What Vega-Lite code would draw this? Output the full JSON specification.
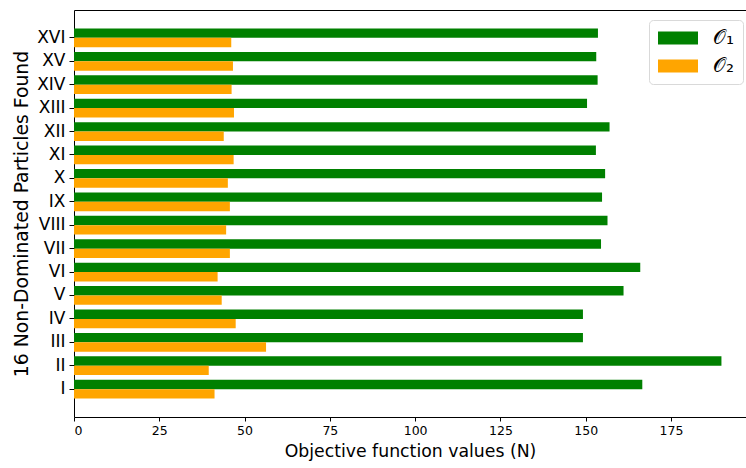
{
  "$schema": "https://vega.github.io/schema/vega-lite/v6.json",
  "width": 672,
  "height": 407,
  "autosize": {"type": "none"},
  "padding": {"left": 74, "top": 10, "right": 0, "bottom": 51},
  "config": {
    "font": "DejaVu Sans",
    "view": {"stroke": "#000000", "strokeWidth": 1},
    "axis": {
      "grid": false,
      "domain": false,
      "tickColor": "#000000",
      "labelColor": "#000000",
      "titleColor": "#000000",
      "titleFontWeight": "normal",
      "labelFont": "DejaVu Sans",
      "titleFont": "DejaVu Sans"
    }
  },
  "data": {
    "values": [
      {"particle": "I", "objective": "𝒪₁", "value": 166.6},
      {"particle": "I", "objective": "𝒪₂", "value": 41.2},
      {"particle": "II", "objective": "𝒪₁", "value": 189.8},
      {"particle": "II", "objective": "𝒪₂", "value": 39.5},
      {"particle": "III", "objective": "𝒪₁", "value": 149.2},
      {"particle": "III", "objective": "𝒪₂", "value": 56.3},
      {"particle": "IV", "objective": "𝒪₁", "value": 149.2},
      {"particle": "IV", "objective": "𝒪₂", "value": 47.4},
      {"particle": "V", "objective": "𝒪₁", "value": 161.1},
      {"particle": "V", "objective": "𝒪₂", "value": 43.3},
      {"particle": "VI", "objective": "𝒪₁", "value": 166.0},
      {"particle": "VI", "objective": "𝒪₂", "value": 42.1},
      {"particle": "VII", "objective": "𝒪₁", "value": 154.5},
      {"particle": "VII", "objective": "𝒪₂", "value": 45.7},
      {"particle": "VIII", "objective": "𝒪₁", "value": 156.4},
      {"particle": "VIII", "objective": "𝒪₂", "value": 44.6},
      {"particle": "IX", "objective": "𝒪₁", "value": 154.8},
      {"particle": "IX", "objective": "𝒪₂", "value": 45.7},
      {"particle": "X", "objective": "𝒪₁", "value": 155.7},
      {"particle": "X", "objective": "𝒪₂", "value": 45.1},
      {"particle": "XI", "objective": "𝒪₁", "value": 153.0},
      {"particle": "XI", "objective": "𝒪₂", "value": 46.8},
      {"particle": "XII", "objective": "𝒪₁", "value": 157.0},
      {"particle": "XII", "objective": "𝒪₂", "value": 43.9},
      {"particle": "XIII", "objective": "𝒪₁", "value": 150.4},
      {"particle": "XIII", "objective": "𝒪₂", "value": 46.9},
      {"particle": "XIV", "objective": "𝒪₁", "value": 153.5},
      {"particle": "XIV", "objective": "𝒪₂", "value": 46.2},
      {"particle": "XV", "objective": "𝒪₁", "value": 153.1},
      {"particle": "XV", "objective": "𝒪₂", "value": 46.6},
      {"particle": "XVI", "objective": "𝒪₁", "value": 153.6},
      {"particle": "XVI", "objective": "𝒪₂", "value": 46.1}
    ]
  },
  "mark": {"type": "bar"},
  "encoding": {
    "y": {
      "field": "particle",
      "type": "nominal",
      "sort": ["XVI", "XV", "XIV", "XIII", "XII", "XI", "X", "IX", "VIII", "VII", "VI", "V", "IV", "III", "II", "I"],
      "scale": {"paddingInner": 0.2, "paddingOuter": 0.79},
      "axis": {
        "title": "16 Non-Dominated Particles Found",
        "titleFontSize": 18.8,
        "titlePadding": 5,
        "labelFontSize": 17,
        "labelPadding": 4,
        "tickSize": 5
      }
    },
    "yOffset": {
      "field": "objective",
      "type": "nominal",
      "sort": ["𝒪₁", "𝒪₂"],
      "scale": {"paddingInner": 0, "paddingOuter": 0}
    },
    "x": {
      "field": "value",
      "type": "quantitative",
      "scale": {"domain": [0, 197], "nice": false, "zero": true},
      "axis": {
        "title": "Objective function values (N)",
        "titleFontSize": 17.3,
        "titlePadding": 6,
        "labelFontSize": 12.5,
        "labelPadding": 3,
        "tickSize": 4,
        "values": [0, 25, 50, 75, 100, 125, 150, 175]
      }
    },
    "color": {
      "field": "objective",
      "type": "nominal",
      "scale": {"domain": ["𝒪₁", "𝒪₂"], "range": ["#008000", "#ffa500"]},
      "legend": {
        "title": null,
        "orient": "none",
        "legendX": 575,
        "legendY": 10,
        "padding": 8,
        "cornerRadius": 4,
        "strokeColor": "#d9d9d9",
        "fillColor": "#ffffff",
        "symbolType": "M-0.9,-0.66L3.1,-0.66L3.1,0.66L-0.9,0.66Z",
        "symbolSize": 400,
        "symbolStrokeWidth": 0,
        "symbolOpacity": 1,
        "labelFont": "DejaVu Sans",
        "labelFontSize": 20,
        "labelColor": "#000000",
        "labelOffset": 36,
        "rowPadding": 8
      }
    }
  }
}
